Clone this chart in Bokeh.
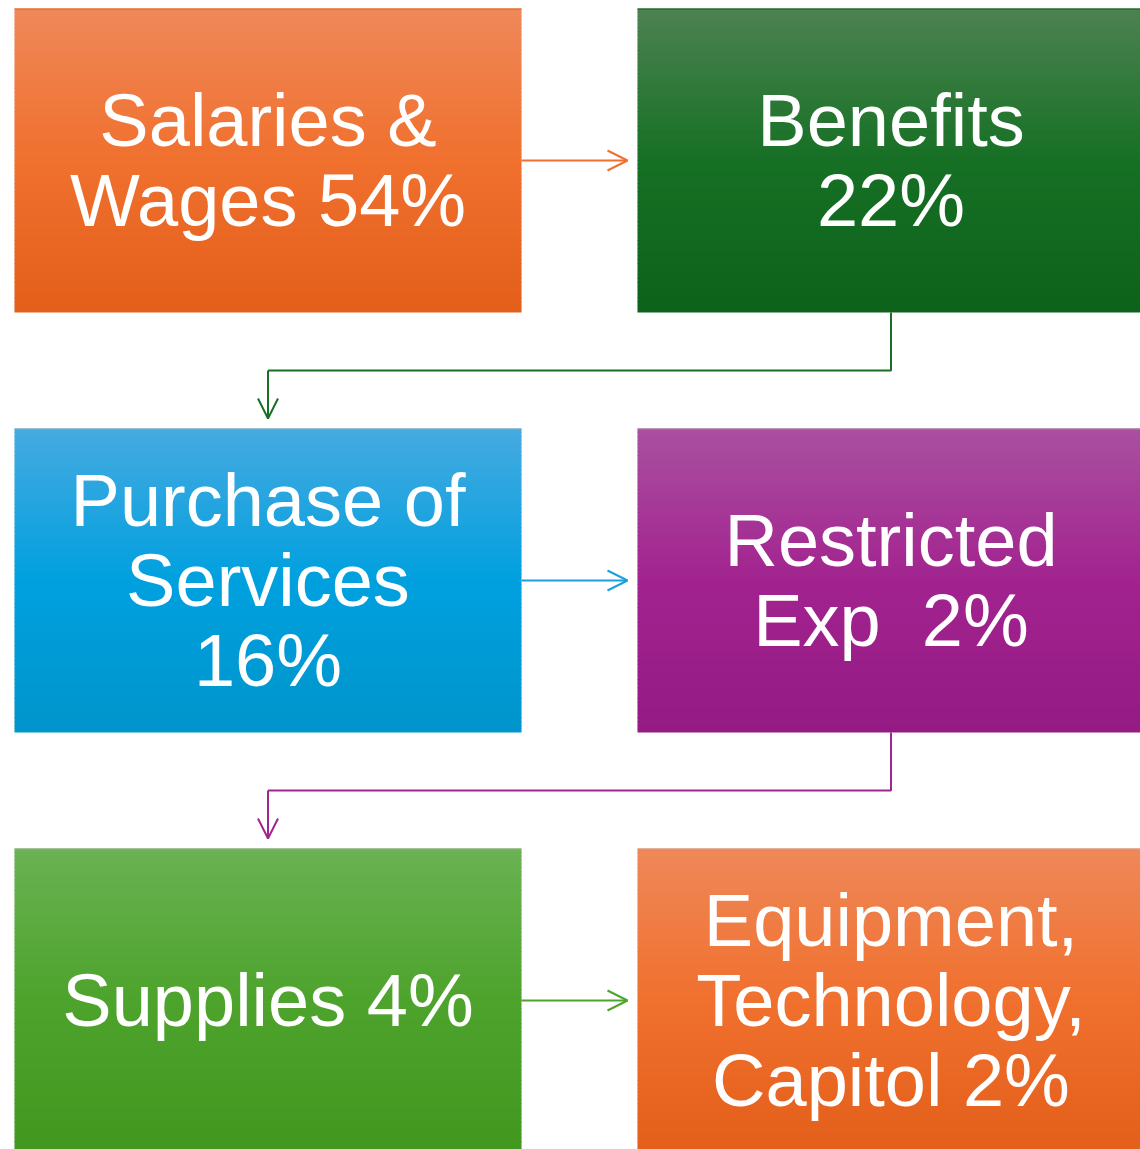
from bokeh.plotting import figure
from bokeh.models import Range1d, Arrow, OpenHead, ColumnDataSource
from bokeh.embed import file_html
from bokeh.resources import INLINE
from bokeh.core.properties import value

# ---- data ----
categories = ["Salaries & Wages", "Benefits", "Purchase of Services",
              "Restricted Exp", "Supplies", "Equipment, Technology, Capitol"]
shares = [54, 22, 16, 2, 4, 2]
labels = ["Salaries &\nWages 54%", "Benefits\n22%", "Purchase of\nServices\n16%",
          "Restricted\nExp\u00a0\u00a02%", "Supplies 4%", "Equipment,\nTechnology,\nCapitol 2%"]
grid_col = [0, 1, 0, 1, 0, 1]
grid_row = [0, 0, 1, 1, 2, 2]
# gradient stops (top, middle, bottom) per box
top_colors = ["#EF8859", "#4D8252", "#46AAE0", "#AA50A0", "#6AB252", "#EF8859"]
mid_colors = ["#F0702E", "#167024", "#00A0DF", "#A2238F", "#4DA32C", "#F0702E"]
bot_colors = ["#E35F1A", "#0E621B", "#0095CB", "#941A84", "#42971F", "#E35F1A"]
edge_colors = ["#E0601E", "#0E621B", "#9AA6AE", "#9A8A98", "#9AA892", "#C8A090"]
arrow_colors = ["#F07030", "#1A6E26", "#1AA0DC", "#A0268F", "#4DA32C"]

# ---- layout ----
X0, COL_PITCH, BOX_W = 14, 623, 507
Y0, ROW_PITCH, BOX_H = 8, 420, 304

p = figure(width=1140, height=1149, x_range=Range1d(0, 1140), y_range=Range1d(1149, 0),
           output_backend="svg", toolbar_location=None,
           x_axis_location=None, y_axis_location=None, min_border=0)
p.grid.visible = False
p.outline_line_color = None
p.background_fill_color = "white"
p.border_fill_color = "white"


def hex2rgb(h):
    h = h.lstrip("#")
    return tuple(int(h[i:i + 2], 16) for i in (0, 2, 4))


def lerp(c1, c2, t):
    a, b = hex2rgb(c1), hex2rgb(c2)
    return "#%02x%02x%02x" % tuple(int(round(a[i] + (b[i] - a[i]) * t)) for i in range(3))


N = 80
ql, qr, qt, qb, qc = [], [], [], [], []
boxes = []
for i in range(len(categories)):
    left = X0 + grid_col[i] * COL_PITCH
    right = left + BOX_W
    top = Y0 + grid_row[i] * ROW_PITCH
    bottom = top + BOX_H
    boxes.append((left, right, top, bottom))
    h = BOX_H / N
    for k in range(N):
        t = (k + 0.5) / N
        if t < 0.5:
            c = lerp(top_colors[i], mid_colors[i], t / 0.5)
        else:
            c = lerp(mid_colors[i], bot_colors[i], (t - 0.5) / 0.5)
        ql.append(left)
        qr.append(right)
        qt.append(top + k * h)
        qb.append(min(top + (k + 1) * h + 0.6, bottom))
        qc.append(c)

p.quad(left=ql, right=qr, top=qt, bottom=qb, fill_color=qc, line_color=None)

# top edge line
p.segment(x0=[b[0] for b in boxes], x1=[b[1] for b in boxes],
          y0=[b[2] + 0.5 for b in boxes], y1=[b[2] + 0.5 for b in boxes],
          line_color=edge_colors, line_width=1)

# labels
src = ColumnDataSource(dict(
    x=[(b[0] + b[1]) / 2 for b in boxes],
    y=[(b[2] + b[3]) / 2 for b in boxes],
    text=labels))
p.text(x="x", y="y", text="text", source=src, text_color="white",
       text_font=value("Liberation Sans"), text_font_size="74px",
       text_align="center", text_baseline="middle", text_line_height=0.96)

# connectors
for i in range(len(categories) - 1):
    a, b = boxes[i], boxes[i + 1]
    col = arrow_colors[i]
    if grid_row[i] == grid_row[i + 1]:
        yc = (a[2] + a[3]) / 2
        p.add_layout(Arrow(end=OpenHead(size=20, line_color=col, line_width=2),
                           x_start=a[1], y_start=yc, x_end=b[0] - 10, y_end=yc,
                           line_color=col, line_width=2))
    else:
        xs = (a[0] + a[1]) / 2
        xe = (b[0] + b[1]) / 2
        ymid = (a[3] + b[2]) / 2
        p.line(x=[xs, xs, xe], y=[a[3], ymid, ymid], line_color=col, line_width=2)
        p.add_layout(Arrow(end=OpenHead(size=20, line_color=col, line_width=2),
                           x_start=xe, y_start=ymid, x_end=xe, y_end=b[2] - 10,
                           line_color=col, line_width=2))

open("out.html", "w").write(file_html(p, INLINE))
